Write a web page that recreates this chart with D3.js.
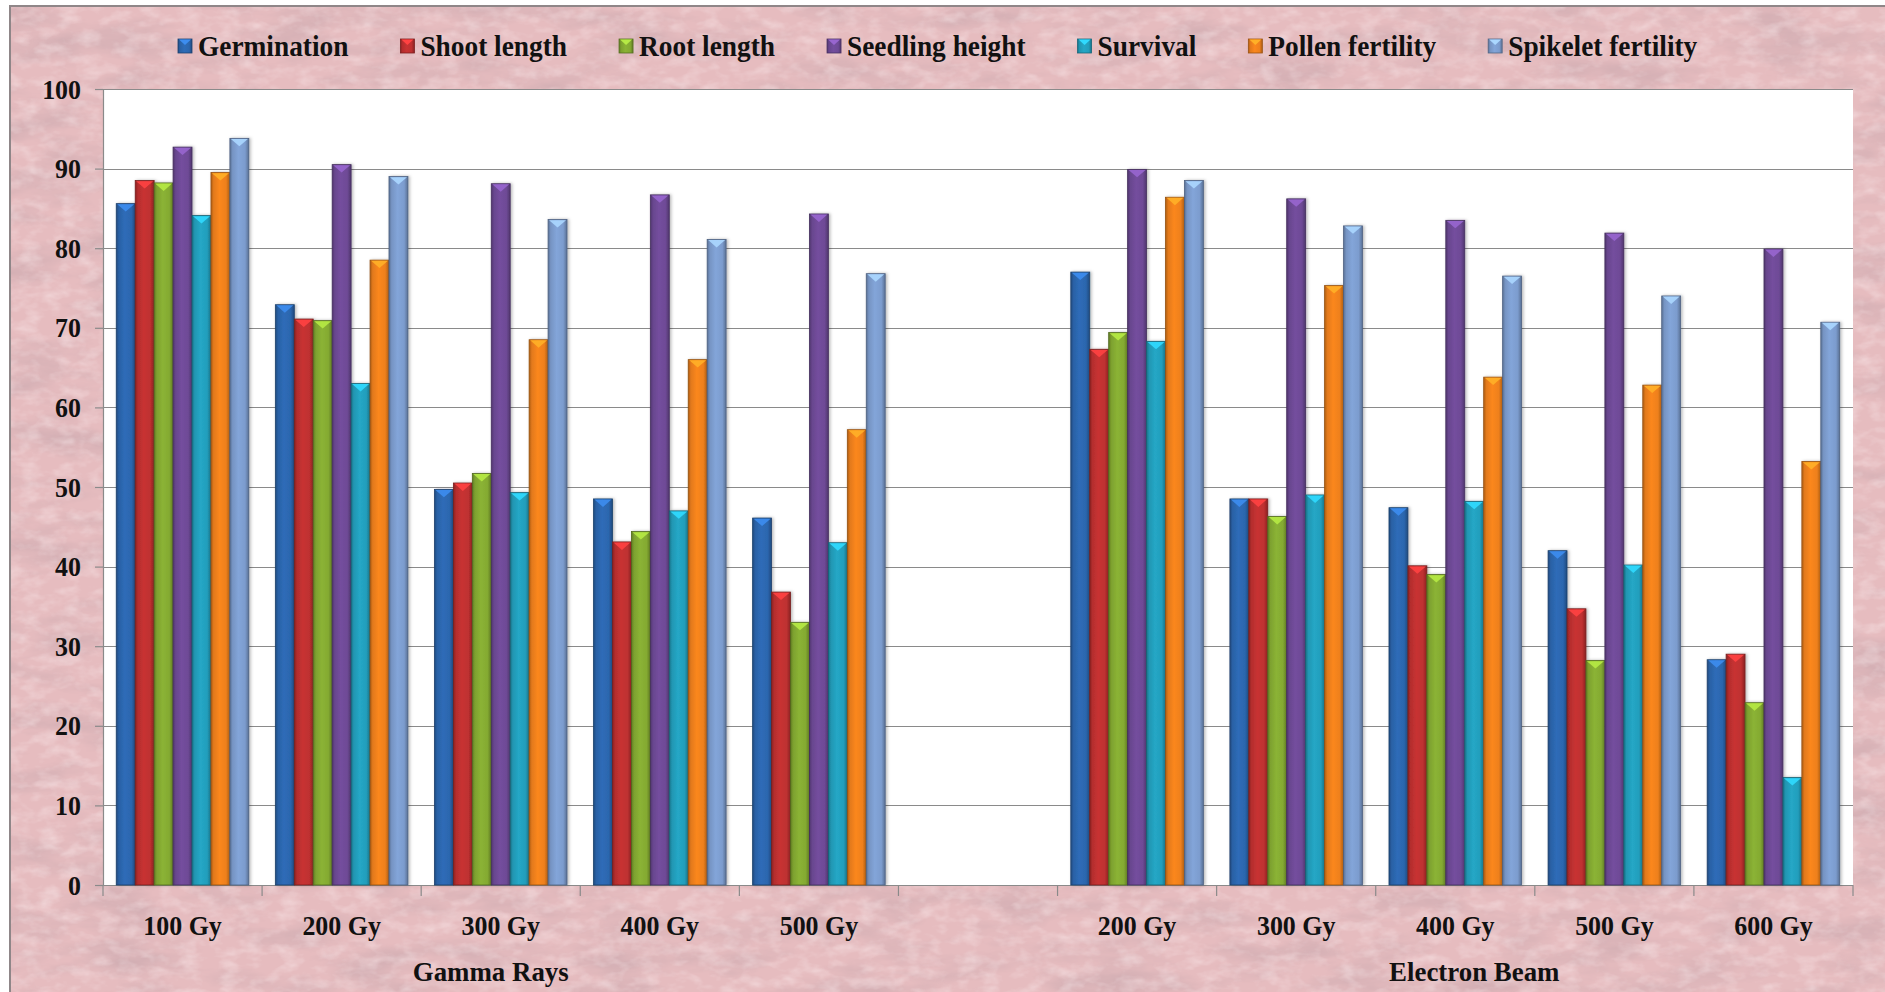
<!DOCTYPE html>
<html>
<head>
<meta charset="utf-8">
<script src="https://cdn.jsdelivr.net/npm/d3@7"></script>
<style>
  html, body { margin: 0; padding: 0; background: #fff; overflow: hidden; }
  text { font-family: "Liberation Serif", "Times New Roman", serif; font-weight: bold; fill: #111; }
</style>
</head>
<body>
<svg id="chart" width="1885" height="992"></svg>
<script>
// ---- data ----
const seriesNames = ["Germination", "Shoot length", "Root length", "Seedling height",
                     "Survival", "Pollen fertility", "Spikelet fertility"];
const seriesColors = ["#2c66ae", "#be3030", "#84aa32", "#6e4a96", "#239ebc", "#ee801c", "#7c9cce"];
const doseLabels = ["100 Gy", "200 Gy", "300 Gy", "400 Gy", "500 Gy", "",
                    "200 Gy", "300 Gy", "400 Gy", "500 Gy", "600 Gy"];
const groupLabels = ["Gamma Rays", "Electron Beam"];
const groupSpans = [[0, 4], [6, 10]];
const yTicks = [0, 10, 20, 30, 40, 50, 60, 70, 80, 90, 100];

// one value per dose slot; the empty slot between treatments has no bars
const germination       = [85.6, 72.9, 49.7, 48.5, 46.1, null, 77.0, 48.5, 47.4, 42.0, 28.3];
const shootLength       = [88.5, 71.1, 50.5, 43.1, 36.8, null, 67.3, 48.5, 40.1, 34.7, 29.0];
const rootLength        = [88.2, 70.9, 51.7, 44.4, 33.0, null, 69.4, 46.3, 39.0, 28.2, 22.9];
const seedlingHeight    = [92.7, 90.5, 88.1, 86.7, 84.3, null, 89.9, 86.2, 83.5, 81.9, 79.9];
const survival          = [84.1, 63.0, 49.3, 47.0, 43.0, null, 68.3, 49.0, 48.2, 40.2, 13.5];
const pollenFertility   = [89.5, 78.5, 68.5, 66.0, 57.2, null, 86.4, 75.3, 63.8, 62.8, 53.2];
const spikeletFertility = [93.8, 89.0, 83.6, 81.1, 76.8, null, 88.5, 82.8, 76.5, 74.0, 70.7];
const seriesValues = [germination, shootLength, rootLength, seedlingHeight,
                      survival, pollenFertility, spikeletFertility];

// ---- layout ----
const W = 1885, H = 992;
const plot = { left: 103, right: 1853, top: 89, bottom: 885 };
const squeeze = 0.96;   // slightly narrowed lettering

const svg = d3.select("#chart");
const defs = svg.append("defs");

// mottled paper texture for the chart frame
const paper = defs.append("filter").attr("id", "paperDark")
  .attr("x", 0).attr("y", 0).attr("width", 1).attr("height", 1);
paper.append("feTurbulence").attr("type", "fractalNoise")
  .attr("baseFrequency", "0.012 0.035").attr("numOctaves", 5).attr("seed", 11);
paper.append("feColorMatrix").attr("type", "matrix")
  .attr("values", "0 0 0 0 0.60  0 0 0 0 0.40  0 0 0 0 0.43  1.5 0 0 0 -0.62");

const paperLight = defs.append("filter").attr("id", "paperLight")
  .attr("x", 0).attr("y", 0).attr("width", 1).attr("height", 1);
paperLight.append("feTurbulence").attr("type", "fractalNoise")
  .attr("baseFrequency", "0.05 0.09").attr("numOctaves", 3).attr("seed", 4);
paperLight.append("feColorMatrix").attr("type", "matrix")
  .attr("values", "0 0 0 0 1  0 0 0 0 0.92  0 0 0 0 0.93  1.6 0 0 0 -0.68");

const shadow = defs.append("filter").attr("id", "barShadow")
  .attr("x", "-20%").attr("y", "-5%").attr("width", "140%").attr("height", "110%");
shadow.append("feDropShadow").attr("dx", 1.5).attr("dy", 0).attr("stdDeviation", 1.6)
  .attr("flood-color", "#000").attr("flood-opacity", 0.28);

// bevelled horizontal gradients, one per series
seriesColors.forEach((c, i) => {
  const base = d3.color(c);
  const g = defs.append("linearGradient").attr("id", "bar" + i)
    .attr("x1", 0).attr("x2", 1).attr("y1", 0).attr("y2", 0);
  [[0, base.darker(0.9)], [0.14, base.darker(0.15)], [0.45, base.brighter(0.15)],
   [0.8, base], [1, base.darker(0.9)]].forEach(([o, col]) =>
    g.append("stop").attr("offset", o).attr("stop-color", col.formatHex()));
});

// frame background
const frame = svg.append("g");
frame.append("rect").attr("x", 10).attr("y", 6).attr("width", W).attr("height", H)
  .attr("fill", "#e6bcbf");
frame.append("rect").attr("x", 10).attr("y", 6).attr("width", W).attr("height", H)
  .attr("filter", "url(#paperDark)");
frame.append("rect").attr("x", 10).attr("y", 6).attr("width", W).attr("height", H)
  .attr("filter", "url(#paperLight)").attr("opacity", 0.5);
frame.append("path").attr("d", `M10,${H}V6H${W}`)
  .attr("fill", "none").attr("stroke", "#8f8688").attr("stroke-width", 2);

// ---- scales ----
const x = d3.scaleBand().domain(d3.range(doseLabels.length)).range([plot.left, plot.right]);
const xs = d3.scaleBand().domain(seriesNames).range([0, x.bandwidth()]).paddingOuter(0.7);
const y = d3.scaleLinear().domain([0, 100]).range([plot.bottom, plot.top]);

// plot area
svg.append("rect").attr("x", plot.left).attr("y", plot.top)
  .attr("width", plot.right - plot.left).attr("height", plot.bottom - plot.top)
  .attr("fill", "#fff");

// gridlines
svg.append("g").selectAll("line").data(yTicks.filter(t => t > 0)).join("line")
  .attr("x1", plot.left).attr("x2", plot.right)
  .attr("y1", d => Math.round(y(d)) + 0.5).attr("y2", d => Math.round(y(d)) + 0.5)
  .attr("stroke", "#8a8a8a").attr("stroke-width", 1.2);

// y axis
const yAxis = svg.append("g").attr("transform", `translate(${plot.left},0)`)
  .call(d3.axisLeft(y).tickValues(yTicks).tickSize(8).tickPadding(14).tickFormat(d3.format("d")));
yAxis.select(".domain").attr("stroke", "#8a8a8a").attr("stroke-width", 1.2);
yAxis.selectAll(".tick line").attr("stroke", "#8a8a8a").attr("stroke-width", 1.2);
yAxis.selectAll(".tick text")
  .style("font-size", "27px").attr("fill", "#111")
  .attr("x", null).attr("dy", "0.34em")
  .attr("transform", `translate(-22,0) scale(${squeeze},1)`);

// x axis: line, boundary ticks, dose labels
const xAxis = svg.append("g");
xAxis.append("line").attr("x1", plot.left).attr("x2", plot.right)
  .attr("y1", plot.bottom + 0.5).attr("y2", plot.bottom + 0.5)
  .attr("stroke", "#8a8a8a").attr("stroke-width", 1.2);
const boundaries = d3.range(doseLabels.length + 1)
  .map(i => i < doseLabels.length ? x(i) : x(i - 1) + x.bandwidth());
xAxis.selectAll("line.tk").data(boundaries).join("line").attr("class", "tk")
  .attr("x1", d => d).attr("x2", d => d)
  .attr("y1", plot.bottom).attr("y2", plot.bottom + 11)
  .attr("stroke", "#8a8a8a").attr("stroke-width", 1.2);
xAxis.selectAll("text.dose").data(doseLabels.map((l, i) => ({ l, i })).filter(d => d.l))
  .join("text").attr("class", "dose")
  .attr("text-anchor", "middle").style("font-size", "27px")
  .attr("transform", d => `translate(${x(d.i) + x.bandwidth() / 2},935) scale(${squeeze},1)`)
  .text(d => d.l);

// treatment group labels
const groupNudge = [-10, 19];
xAxis.selectAll("text.group").data(groupLabels.map((g, i) => ({ g, i }))).join("text")
  .attr("class", "group").attr("text-anchor", "middle").style("font-size", "28px")
  .attr("transform", d => {
    const [a, b] = groupSpans[d.i];
    const cx = (x(a) + x(b) + x.bandwidth()) / 2 + groupNudge[d.i];
    return `translate(${cx},981) scale(${squeeze},1)`;
  })
  .text(d => d.g);

// bars
const bars = svg.append("g").attr("filter", "url(#barShadow)");
seriesNames.forEach((name, si) => {
  const base = d3.color(seriesColors[si]);
  const rows = seriesValues[si].map((v, i) => ({ i, v })).filter(d => d.v != null);
  const g = bars.append("g");
  g.selectAll("rect").data(rows).join("rect")
    .attr("x", d => x(d.i) + xs(name))
    .attr("y", d => y(d.v))
    .attr("width", xs.bandwidth())
    .attr("height", d => y(0) - y(d.v))
    .attr("fill", `url(#bar${si})`)
    .attr("stroke", base.darker(1.3).formatHex()).attr("stroke-width", 0.8);
  // bevelled top facet
  g.selectAll("path").data(rows).join("path")
    .attr("d", d => {
      const x0 = x(d.i) + xs(name), w = xs.bandwidth(), y0 = y(d.v);
      const h = Math.min(w * 0.42, y(0) - y(d.v));
      return `M${x0 + 1},${y0 + 0.6}L${x0 + w - 1},${y0 + 0.6}L${x0 + w / 2},${y0 + h}Z`;
    })
    .attr("fill", base.brighter(0.9).formatHex())
    .attr("opacity", 0.9);
});

// legend
const legend = svg.append("g");
let lx = 178;
const ly = 46, sq = 14;
seriesNames.forEach((name, si) => {
  const base = d3.color(seriesColors[si]);
  const item = legend.append("g");
  item.append("rect").attr("x", lx).attr("y", ly - sq / 2).attr("width", sq).attr("height", sq)
    .attr("fill", `url(#bar${si})`).attr("stroke", base.darker(1.2).formatHex()).attr("stroke-width", 0.8);
  item.append("path")
    .attr("d", `M${lx + 1},${ly - sq / 2 + 0.6}L${lx + sq - 1},${ly - sq / 2 + 0.6}L${lx + sq / 2},${ly - sq / 2 + 6}Z`)
    .attr("fill", base.brighter(0.9).formatHex());
  const t = item.append("text").style("font-size", "28.5px")
    .attr("transform", `translate(${lx + sq + 6},${ly + 9.5}) scale(${squeeze},1)`)
    .text(name);
  const tw = t.node().getComputedTextLength() * squeeze;
  lx += sq + 6 + tw + 52;
});
</script>
</body>
</html>
